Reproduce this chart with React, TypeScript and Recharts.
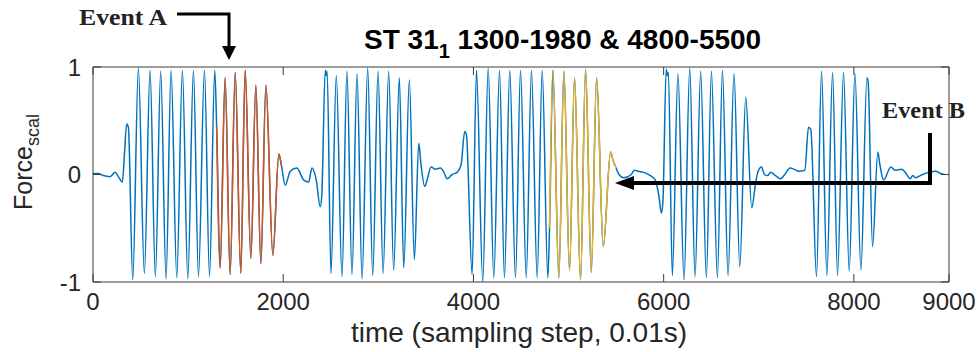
import { LineChart, Line, XAxis, YAxis } from "recharts";

// values (time in sampling steps, force scaled to [-1, 1])
const time1 = [0, 56, 108, 179, 232, 267, 309, 330, 354, 372, 418, 477, 540, 600, 656, 712, 768, 821, 881, 940, 997, 1056, 1109, 1172, 1225, 1280, 1300, 1337, 1389, 1442, 1495, 1554, 1600, 1660, 1712, 1765, 1818, 1891, 1954, 1980, 2021, 2074, 2144, 2214, 2267, 2302, 2347, 2389, 2405];
const force1 = [0.01, 0.01, -0.01, -0.02, 0.02, -0.02, -0.07, 0.18, 0.47, 0.44, -0.98, 0.99, -0.92, 0.97, -0.95, 0.96, -0.97, 0.97, -0.96, 0.97, -0.97, 0.97, -0.95, 0.97, -0.95, 0.97, 0.45, -0.87, 0.9, -0.93, 0.95, -0.92, 0.97, -0.78, 0.83, -0.83, 0.83, -0.75, 0.19, 0.09, -0.1, 0.03, 0.06, -0.05, -0.07, 0.06, -0.05, -0.3, -0.2];

const time2 = [2442, 2452, 2462, 2502, 2558, 2618, 2670, 2723, 2776, 2829, 2888, 2941, 2997, 3050, 3109, 3161, 3221, 3267, 3326, 3379, 3425, 3449, 3487, 3510, 3555, 3600, 3653, 3690, 3723, 3776, 3828, 3870, 3908, 3926];
const force2 = [0.97, 0.92, 0.96, -0.92, 0.92, -0.95, 0.96, -0.93, 0.94, -0.97, 0.99, -0.94, 0.96, -0.92, 0.96, -0.89, 0.9, -0.87, 0.88, -0.79, 0.29, 0.09, -0.11, -0.06, 0.07, 0.05, 0.06, 0.02, -0.04, 0.0, 0.02, 0.09, 0.4, 0.37];

const time3 = [3986, 4032, 4098, 4155, 4214, 4274, 4326, 4382, 4442, 4495, 4555, 4610, 4670, 4723, 4782, 4800, 4835, 4898, 4951, 5010, 5063, 5126, 5179, 5239, 5295, 5365, 5442, 5465, 5500, 5530, 5580, 5660, 5690, 5730, 5790, 5860, 5910, 5950, 5976, 5992];
const force3 = [-0.93, 0.97, -1.0, 0.99, -0.96, 0.97, -0.96, 0.97, -0.96, 0.97, -0.96, 0.97, -0.96, 0.97, -0.96, -0.5, 0.97, -0.96, 0.96, -0.89, 0.9, -0.98, 0.98, -0.91, 0.9, -0.67, 0.21, 0.14, 0.06, 0.0, -0.03, 0.0, 0.04, 0.03, 0.02, -0.01, -0.05, -0.2, -0.36, -0.25];

const time4 = [6027, 6040, 6050, 6091, 6150, 6214, 6274, 6330, 6389, 6449, 6502, 6565, 6618, 6677, 6740, 6800, 6863, 6926, 6968, 6993, 7028, 7060, 7091, 7126, 7160, 7190, 7231, 7265, 7329, 7370, 7420, 7484, 7523, 7547];
const force4 = [0.98, 0.92, 0.95, -0.94, 0.94, -0.98, 0.99, -0.95, 0.96, -0.96, 0.96, -0.96, 0.97, -0.94, 0.94, -0.86, 0.72, -0.31, -0.07, 0.03, 0.07, 0.0, -0.01, 0.02, 0.0, -0.02, -0.04, -0.01, 0.06, 0.05, 0.03, 0.04, 0.44, 0.42];

const time5 = [7607, 7660, 7716, 7776, 7828, 7891, 7951, 8011, 8074, 8137, 8150, 8196, 8252, 8272, 8312, 8389, 8430, 8502, 8540, 8592, 8620, 8645, 8722, 8792, 8862, 8910, 8955];
const force5 = [-0.95, 0.96, -0.94, 0.95, -0.94, 0.95, -0.9, 0.94, -0.89, 0.9, 0.86, -0.67, 0.21, 0.1, -0.05, 0.07, 0.04, 0.05, 0.02, -0.04, -0.01, -0.03, 0.0, 0.02, 0.03, 0.01, 0.0];

const eventA = [1300, 1980];
const eventB = [4800, 5500];
const xTicks = [0, 2000, 4000, 6000, 8000, 9000];
const yTicks = [-1, 0, 1];

const times = [...time1, ...time2, ...time3, ...time4, ...time5];
const forces = [...force1, ...force2, ...force3, ...force4, ...force5];
const trace = times.map((t, i) => ({ t, f: forces[i] }));
const partA = trace.filter((d) => d.t >= eventA[0] && d.t <= eventA[1]);
const partB = trace.filter((d) => d.t >= eventB[0] && d.t <= eventB[1]);

const sans = "'Liberation Sans', Arial, sans-serif";
const serif = "'Liberation Serif', 'Times New Roman', serif";
const axisColor = "#3a3a3a";
const tickFont = { fontSize: 24, fill: "#262626", fontFamily: sans };
const noLabel = () => <g />;

export default function App() {
  return (
    <div style={{ position: "fixed", left: 0, top: 0, width: 979, height: 352, background: "#fff" }}>
      <LineChart width={979} height={352} margin={{ top: 66, right: 29, bottom: 69, left: 92 }}>
        <XAxis dataKey="t" type="number" domain={[0, 9000]} ticks={xTicks} allowDataOverflow height={1}
          stroke={axisColor} tickSize={-8} tickMargin={19} tick={tickFont} interval={0} />
        <XAxis xAxisId="top" orientation="top" dataKey="t" type="number" domain={[0, 9000]} ticks={xTicks}
          allowDataOverflow height={1} stroke={axisColor} tickSize={-8} tick={noLabel} interval={0} />
        <YAxis type="number" domain={[-1, 1]} ticks={yTicks} allowDataOverflow width={1}
          stroke={axisColor} tickSize={-8} tickMargin={20} tick={tickFont} interval={0} />
        <YAxis yAxisId="right" orientation="right" type="number" domain={[-1, 1]} ticks={yTicks}
          allowDataOverflow width={1} stroke={axisColor} tickSize={-8} tick={noLabel} interval={0} />
        <Line data={trace} dataKey="f" type="monotone" stroke="#0072BD" strokeWidth={1.5} dot={false} isAnimationActive={false} />
        <Line data={partA} dataKey="f" type="monotone" stroke="#D95319" strokeWidth={1.5} dot={false} isAnimationActive={false} />
        <Line data={partB} dataKey="f" type="monotone" stroke="#EDB120" strokeWidth={1.5} dot={false} isAnimationActive={false} />
      </LineChart>
      <svg width={979} height={352} style={{ position: "absolute", left: 0, top: 0, pointerEvents: "none" }}>
        <text x={364} y={49} fontFamily={sans} fontWeight="bold" fontSize={28} fill="#000">
          ST 31<tspan fontSize={20} dy={9}>1</tspan><tspan dy={-9}>{"  1300-1980 & 4800-5500"}</tspan>
        </text>
        <text x={519} y={342} textAnchor="middle" fontFamily={sans} fontSize={28} fill="#262626">
          time (sampling step, 0.01s)
        </text>
        <text transform="translate(32,210) rotate(-90)" fontFamily={sans} fontSize={25} fill="#262626">
          Force<tspan fontSize={18} dy={7}>scal</tspan>
        </text>
        <text x={79} y={25} fontFamily={serif} fontWeight="bold" fontSize={23} fill="#222" textLength={88} lengthAdjust="spacingAndGlyphs">
          Event A
        </text>
        <path d="M177 14 H229 V47" fill="none" stroke="#000" strokeWidth={3} />
        <polygon points="222,46 236,46 229,60" fill="#000" />
        <text x={882} y={118} fontFamily={serif} fontWeight="bold" fontSize={23} fill="#222" textLength={83} lengthAdjust="spacingAndGlyphs">
          Event B
        </text>
        <path d="M930 133 V183 H630" fill="none" stroke="#000" strokeWidth={4} />
        <polygon points="634,176 634,190 615,183" fill="#000" />
      </svg>
    </div>
  );
}
